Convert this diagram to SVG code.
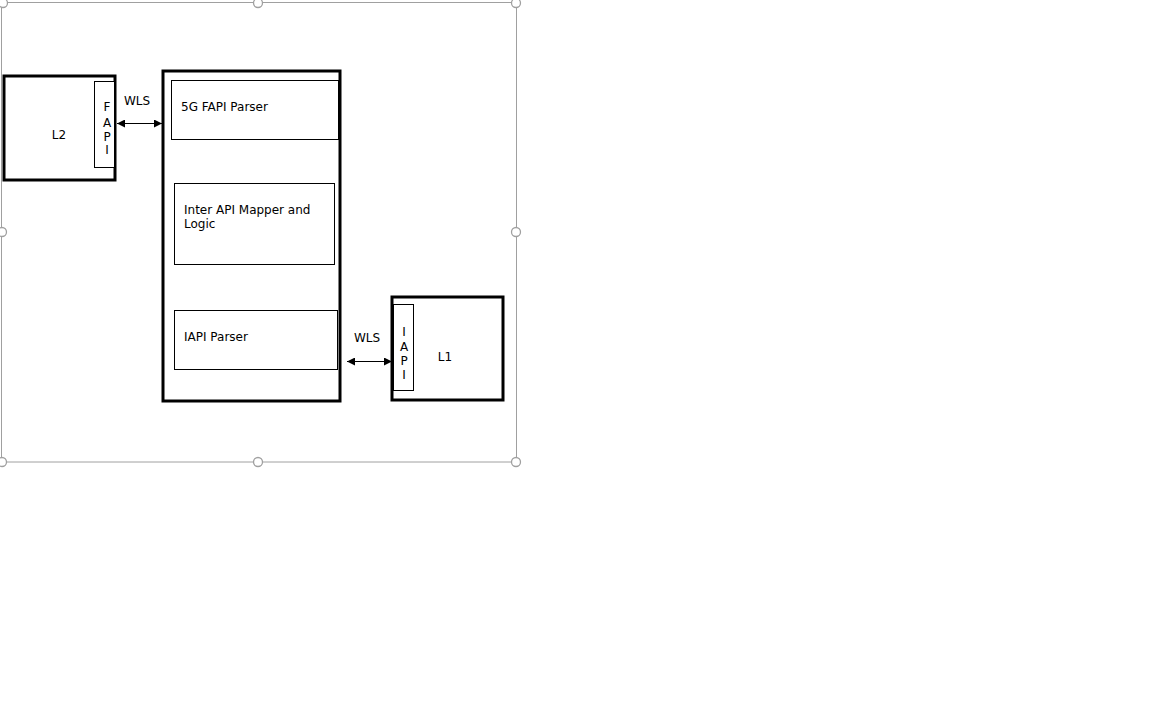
<svg xmlns="http://www.w3.org/2000/svg" width="1152" height="720" viewBox="0 0 1152 720">
<defs>
<style>
.thick{fill:#fff;stroke:#000;stroke-width:3}
.thin{fill:#fff;stroke:#000;stroke-width:1}
.t{font-family:"DejaVu Sans",Verdana,sans-serif;font-size:12px;fill:#000}
.c{text-anchor:middle}
.frame{fill:none;stroke:#a0a0a0;stroke-width:1}
.h{fill:#fff;stroke:#a0a0a0;stroke-width:1.3}
.conn{stroke:#000;stroke-width:1;fill:none;marker-start:url(#ah);marker-end:url(#ah)}
</style>
<marker id="ah" markerUnits="userSpaceOnUse" markerWidth="9" markerHeight="8" refX="8" refY="4" orient="auto-start-reverse">
<path d="M0,0 L8,4 L0,8 z" fill="#000"/>
</marker>
</defs>
<rect width="1152" height="720" fill="#fff"/>
<g id="selection-frame">
<rect class="frame" x="1.5" y="2.5" width="515" height="459.5"/>
<circle class="h" cx="3" cy="3" r="4.5"/>
<circle class="h" cx="258" cy="3" r="4.5"/>
<circle class="h" cx="516" cy="3" r="4.5"/>
<circle class="h" cx="2" cy="232" r="4.5"/>
<circle class="h" cx="516" cy="232" r="4.5"/>
<circle class="h" cx="2" cy="462" r="4.5"/>
<circle class="h" cx="258" cy="462" r="4.5"/>
<circle class="h" cx="516" cy="462" r="4.5"/>
</g>
<g id="L2">
<rect class="thick" x="4" y="76" width="111" height="104"/>
<rect class="thin" x="94.5" y="81.5" width="20" height="86"/>
<text class="t c" x="59" y="138.5">L2</text>
<text class="t c" x="107" y="111">F</text>
<text class="t c" x="107" y="126.5">A</text>
<text class="t c" x="107" y="140.5">P</text>
<text class="t c" x="107" y="154">I</text>
</g>
<g id="middle">
<rect class="thick" x="163" y="71" width="177" height="330"/>
</g>
<g id="fapi-parser">
<rect class="thin" x="171.5" y="80.5" width="167" height="59"/>
<text class="t" x="181" y="110.5">5G FAPI Parser</text>
</g>
<g id="mapper">
<rect class="thin" x="174.5" y="183.5" width="160" height="81"/>
<text class="t" x="184" y="214">Inter API Mapper and</text>
<text class="t" x="184" y="228">Logic</text>
</g>
<g id="iapi-parser">
<rect class="thin" x="174.5" y="310.5" width="163" height="59"/>
<text class="t" x="184" y="340.5">IAPI Parser</text>
</g>
<g id="L1">
<rect class="thick" x="392" y="297" width="111" height="103"/>
<rect class="thin" x="393.5" y="304.5" width="20" height="86"/>
<text class="t c" x="445" y="361">L1</text>
<text class="t c" x="404" y="335.5">I</text>
<text class="t c" x="404" y="351">A</text>
<text class="t c" x="404" y="364.5">P</text>
<text class="t c" x="404" y="378.5">I</text>
</g>
<g id="connectors">
<line class="conn" x1="117" y1="123.5" x2="162" y2="123.5"/>
<text class="t c" x="137" y="105">WLS</text>
<line class="conn" x1="347" y1="361.5" x2="392" y2="361.5"/>
<text class="t c" x="367" y="342">WLS</text>
</g>
</svg>
